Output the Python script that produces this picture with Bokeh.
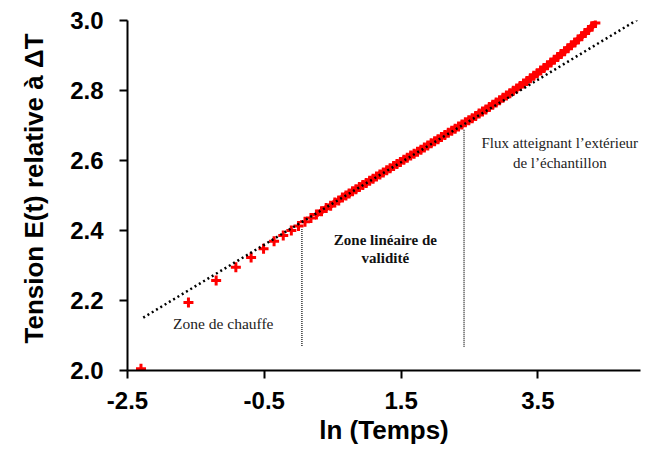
import math
from bokeh.plotting import figure
from bokeh.models import Range1d, FixedTicker, Title, NumeralTickFormatter
from bokeh.embed import file_html
from bokeh.resources import INLINE
from bokeh.core.properties import value

# measured points: x = ln(time), y = tension
ln_temps = [-2.303, -1.609, -1.204, -0.916, -0.693, -0.511, -0.357, -0.223, -0.105, 0.0,
            0.095, 0.182, 0.262, 0.336, 0.405, 0.470, 0.531, 0.588, 0.642, 0.693,
            0.74, 0.79, 0.84, 0.89, 0.94, 0.99, 1.04, 1.09, 1.14, 1.19,
            1.24, 1.29, 1.34, 1.39, 1.44, 1.49, 1.54, 1.59, 1.64, 1.69,
            1.74, 1.79, 1.84, 1.89, 1.94, 1.99, 2.04, 2.09, 2.14, 2.19,
            2.24, 2.29, 2.34, 2.39, 2.44, 2.49, 2.54, 2.59, 2.64, 2.69,
            2.74, 2.79, 2.84, 2.89, 2.94, 2.99, 3.04, 3.09, 3.14, 3.19,
            3.24, 3.29, 3.34, 3.39, 3.44, 3.49, 3.54, 3.59, 3.64, 3.69,
            3.74, 3.79, 3.84, 3.89, 3.94, 3.99, 4.04, 4.09, 4.14, 4.19,
            4.24, 4.29, 4.34]
tension = [2.005, 2.194, 2.257, 2.295, 2.323, 2.348, 2.369, 2.386, 2.400, 2.413,
           2.425, 2.436, 2.446, 2.455, 2.464, 2.471, 2.480, 2.486, 2.494, 2.500,
           2.506, 2.512, 2.518, 2.524, 2.530, 2.536, 2.542, 2.548, 2.554, 2.560,
           2.566, 2.572, 2.578, 2.584, 2.590, 2.596, 2.602, 2.608, 2.614, 2.619,
           2.625, 2.631, 2.637, 2.643, 2.649, 2.655, 2.661, 2.667, 2.673, 2.679,
           2.685, 2.691, 2.697, 2.703, 2.709, 2.715, 2.721, 2.727, 2.734, 2.740,
           2.746, 2.753, 2.759, 2.766, 2.772, 2.779, 2.786, 2.792, 2.799, 2.806,
           2.813, 2.820, 2.827, 2.835, 2.842, 2.849, 2.857, 2.864, 2.872, 2.880,
           2.888, 2.896, 2.904, 2.912, 2.921, 2.929, 2.937, 2.946, 2.955, 2.964,
           2.973, 2.983, 2.993]

# linear trend line (end points)
trend_x = [-2.27, 5.03]
trend_y = [2.151, 3.011]

# zone boundaries (vertical dotted lines)
bound_x = [0.05, 2.42]
bound_y_low = [2.07, 2.068]
bound_y_high = [2.405, 2.69]

x_ticks = [-2.5, -0.5, 1.5, 3.5]
y_ticks = [2.0, 2.2, 2.4, 2.6, 2.8, 3.0]

p = figure(width=651, height=450,
           x_range=Range1d(-2.5, 5.0), y_range=Range1d(2.0, 3.0),
           output_backend="svg", toolbar_location=None,
           min_border_left=127, min_border_right=11,
           min_border_top=20, min_border_bottom=80)
p.outline_line_color = None
p.xgrid.visible = False
p.ygrid.visible = False
p.background_fill_color = "white"
p.border_fill_color = "white"

# data: dense part drawn as a thick band of crosses
p.line(ln_temps[12:], tension[12:], line_color="#ff0000", line_width=6)
p.scatter(ln_temps, tension, marker="cross", size=10, line_color="#ff0000",
          line_width=3)
# trend
p.line(trend_x, trend_y, line_color="black", line_width=2.5, line_dash="2 3")
# boundaries
p.segment(x0=bound_x, y0=bound_y_low, x1=bound_x, y1=bound_y_high,
          line_color="black", line_width=1.2, line_dash="1 1")

serif = value("Liberation Serif")
p.text(x=[-1.10], y=[2.134], text=["Zone de chauffe"], text_font=serif,
       text_font_size="15.5px", text_color="#222222", text_align="center",
       text_baseline="middle")
p.text(x=[1.27, 1.27], y=[2.372, 2.322], text=["Zone linéaire de", "validité"],
       text_font=serif, text_font_size="15px", text_font_style="bold",
       text_color="#111111", text_align="center", text_baseline="middle")
p.text(x=[3.82, 3.82], y=[2.649, 2.594],
       text=["Flux atteignant l\u2019extérieur", "de l\u2019échantillon"],
       text_font=serif, text_font_size="15px", text_color="#222222",
       text_align="center", text_baseline="middle")

for ax in (p.xaxis[0], p.yaxis[0]):
    ax.axis_line_width = 2
    ax.axis_line_color = "black"
    ax.major_tick_line_width = 2
    ax.major_tick_line_color = "black"
    ax.major_tick_out = 8
    ax.major_tick_in = 0
    ax.minor_tick_line_color = None
    ax.major_label_text_font = "Liberation Sans"
    ax.major_label_text_font_style = "bold"
    ax.major_label_text_font_size = "24px"
    ax.major_label_text_color = "black"

p.xaxis.ticker = FixedTicker(ticks=x_ticks)
p.yaxis.ticker = FixedTicker(ticks=y_ticks)
p.xaxis.formatter = NumeralTickFormatter(format="0.0")
p.yaxis.formatter = NumeralTickFormatter(format="0.0")
p.xaxis.major_label_standoff = 13
p.yaxis.major_label_standoff = 16

p.xaxis.axis_label = "ln (Temps)"
p.xaxis.axis_label_text_font = "Liberation Sans"
p.xaxis.axis_label_text_font_style = "bold"
p.xaxis.axis_label_text_font_size = "26px"
p.xaxis.axis_label_text_color = "black"
p.xaxis.axis_label_standoff = 3

p.add_layout(Title(text="Tension E(t) relative à \u0394T", align="left",
                   vertical_align="top",
                   offset=27, standoff=33,
                   text_font="Liberation Sans", text_font_style="bold",
                   text_font_size="26px", text_color="black"), "left")

open("out.html", "w").write(file_html(p, INLINE))
